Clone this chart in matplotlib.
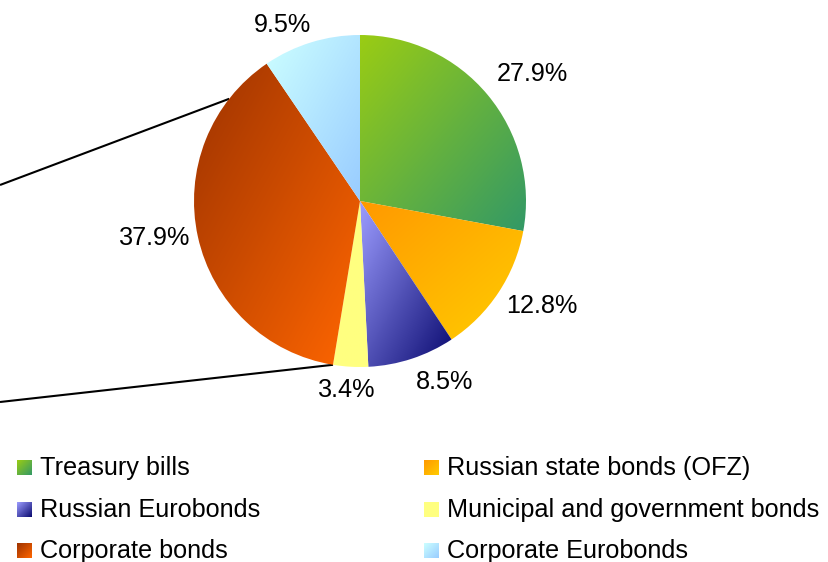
import numpy as np
import matplotlib
matplotlib.use("Agg")
import matplotlib.pyplot as plt
from matplotlib.colors import LinearSegmentedColormap

plt.rcParams["font.family"] = ["Liberation Sans", "DejaVu Sans"]

# -- Portfolio structure ------------------------------------------------------
categories = ["Treasury bills", "Russian state bonds (OFZ)", "Russian Eurobonds",
              "Municipal and government bonds", "Corporate bonds",
              "Corporate Eurobonds"]
shares = [27.9, 12.8, 8.5, 3.4, 37.9, 9.5]

# two-stop diagonal fills (upper-left -> lower-right)
grad_from = ["#9acc14", "#ff9900", "#9c9cff", "#ffff80", "#9e3300", "#ccffff"]
grad_to = ["#339966", "#ffcc00", "#0a0a70", "#ffff80", "#ff6600", "#99ccff"]

# -- Layout (pixel space, y pointing up) --------------------------------------
W, H = 829, 562
CENTER = (360, H - 201)
RADIUS = 166
label_xy = [(532, 74), (542, 306), (445, 382), (347, 390), (155, 238), (283, 25)]
split_slice = 4             # corporate bonds are broken out to the left
conn_angles = [142.0, None]  # None -> use the slice's trailing edge
conn_left_y = [185, 402]
FS = 18.2


def gradient_fill(ax, c0, c1, bbox, clip=None, zorder=2):
    cmap = LinearSegmentedColormap.from_list("g", [c0, c1])
    n = 64
    yy, xx = np.mgrid[0:1:n * 1j, 0:1:n * 1j]
    img = (xx + yy) / 2.0  # rows start at the top (origin="upper")
    x0, y0, x1, y1 = bbox
    im = ax.imshow(img, cmap=cmap, extent=(x0, x1, y0, y1), origin="upper",
                   interpolation="bilinear", zorder=zorder, aspect="auto")
    if clip is not None:
        im.set_clip_path(clip)
    return im


fig = plt.figure(figsize=(W / 100, H / 100), dpi=100)
ax = fig.add_axes([0, 0, 1, 1])

wedges, _ = ax.pie(shares, center=CENTER, radius=RADIUS, startangle=90,
                   counterclock=False, frame=False,
                   wedgeprops=dict(linewidth=0))

for w, c0, c1 in zip(wedges, grad_from, grad_to):
    w.set_facecolor("none")
    w.set_zorder(3)
    ext = w.get_path().get_extents(w.get_patch_transform())
    gradient_fill(ax, c0, c1, (ext.x0, ext.y0, ext.x1, ext.y1), clip=w)

# connector lines toward the broken-out breakdown
sw = wedges[split_slice]
for ang, ly in zip(conn_angles, conn_left_y):
    if ang is None:
        ang = sw.theta2
    a = np.deg2rad(ang)
    px = CENTER[0] + RADIUS * np.cos(a)
    py = CENTER[1] + RADIUS * np.sin(a)
    ax.plot([0, px], [H - ly, py], color="black", lw=1.5, zorder=1,
            solid_capstyle="butt")

# percentage labels
for v, (lx, ly) in zip(shares, label_xy):
    ax.text(lx, H - ly, f"{v:.1f}%", fontsize=FS, ha="center", va="center",
            zorder=5)

# legend, two columns
col_x = [17, 424]
text_x = [40, 447]
row_y = [468, 510, 551]
sq = 15
for i, (name, c0, c1) in enumerate(zip(categories, grad_from, grad_to)):
    col, row = i % 2, i // 2
    x0 = col_x[col]
    yc = H - row_y[row]
    gradient_fill(ax, c0, c1, (x0, yc - sq / 2, x0 + sq, yc + sq / 2), zorder=4)
    ax.text(text_x[col], yc, name, fontsize=FS, ha="left", va="center")

ax.set_xlim(0, W)
ax.set_ylim(0, H)
ax.set_aspect("auto")
ax.axis("off")

fig.savefig("out.png", dpi=100, facecolor="white")
